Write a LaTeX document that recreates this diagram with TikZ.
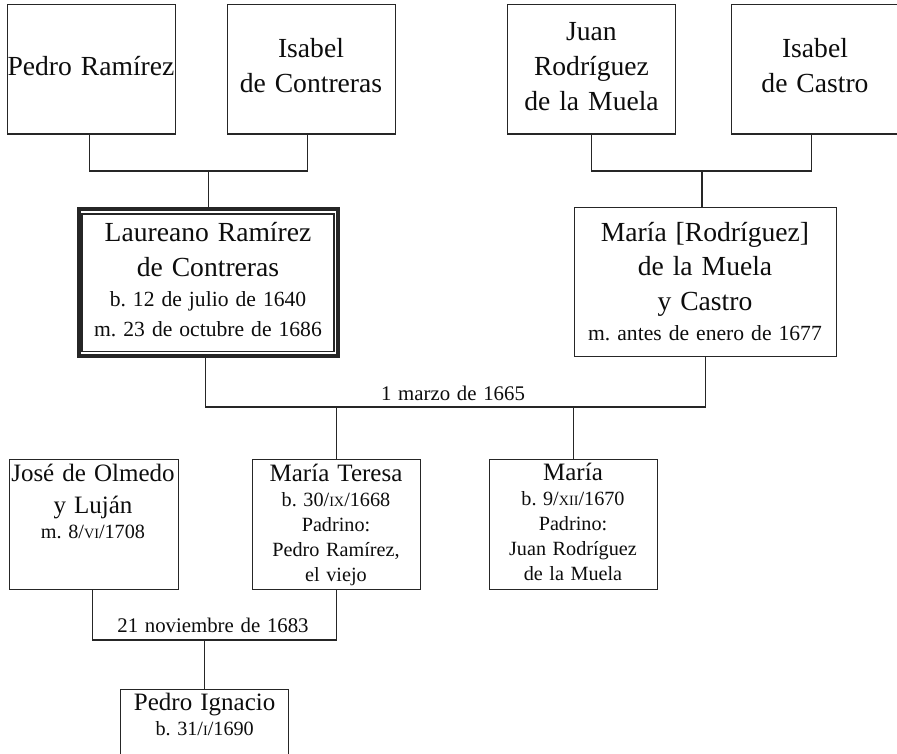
\documentclass[tikz,border=0pt]{standalone}
\usepackage{fontspec}
\setmainfont{Liberation Serif}
\usetikzlibrary{calc}
\definecolor{ink}{gray}{0.15}
\definecolor{txtc}{gray}{0.05}
\newcommand\fixsp{\spaceskip=.325em\xspaceskip=.325em\relax}
\newcommand\fbig{\fontsize{27.6}{35}\selectfont\fixsp}
\newcommand\fmid{\fontsize{21.6}{30}\selectfont\fixsp}
\newcommand\fname{\fontsize{25}{32}\selectfont\fixsp}
\newcommand\fsmall{\fontsize{20.2}{25}\selectfont\fixsp}
\newcommand\flbl{\fontsize{20.8}{25}\selectfont\fixsp}
\newcommand\rmn[1]{{\fontsize{14.2}{14.2}\selectfont #1}}
\begin{document}
\begin{tikzpicture}[x=1pt,y=-1pt,
  box/.style={draw=ink, line width=1.2pt, inner sep=0pt, outer sep=0pt, anchor=north west,
              minimum width=168pt, minimum height=129.5pt},
  txt/.style={anchor=base, inner sep=0pt, outer sep=0pt, text width=320pt, align=center, text=txtc},
  lbl/.style={anchor=base, inner sep=0pt, outer sep=0pt, text=txtc, font=\flbl},
  link/.style={draw=ink, line width=1.2pt}]
\useasboundingbox (0,0) rectangle (897,754);
\clip (0,0) rectangle (897,754);
\fill[white] (0,0) rectangle (897,754);

% boxes
\node[box] (PR) at (7.5,4.5) {};
\node[box] (IC) at (227.5,4.5) {};
\node[box] (JR) at (507.5,4.5) {};
\node[box] (ICa) at (731.5,4.5) {};
\node[box, line width=4pt, minimum width=259.5pt, minimum height=146.5pt] (L) at (78.7,209.3) {};
\draw[link] ($(L.north west)+(3.3,4.7)$) rectangle ($(L.south east)+(-4.2,-4.3)$);
\node[box, minimum width=262pt, minimum height=149pt] (MR) at (574.5,207.5) {};
\node[box, minimum width=169pt, minimum height=130pt] (JO) at (9.5,459.5) {};
\node[box, minimum height=130pt] (MT) at (252.5,459.5) {};
\node[box, minimum height=130pt] (M) at (489.5,459.5) {};
\node[box, minimum height=130pt] (PI) at (120.5,689.5) {};

% texts
\node[txt] (tPR) at (91,76) {{\fbig Pedro Ramírez\par}};
\node[txt] (tIC) at (311,58) {{\fbig Isabel\\de Contreras\par}};
\node[txt] (tJR) at (591.5,41) {{\fbig Juan\\Rodríguez\\de la Muela\par}};
\node[txt] (tICa) at (815,58) {{\fbig Isabel\\de Castro\par}};
\node[txt] (tL) at (208,242) {{\fbig Laureano Ramírez\\de Contreras\par}{\fmid b. 12 de julio de 1640\\m. 23 de octubre de 1686\par}};
\node[txt] (tMR) at (705,241) {{\fbig María [Rodríguez]\\de la Muela\\y Castro\par}{\fmid m. antes de enero de 1677\par}};
\node[txt] (tJO) at (93,481) {{\fname José de Olmedo\\y Luján\par}{\fsmall m. 8/\rmn{VI}/1708\par}};
\node[txt] (tMT) at (336,481) {{\fname María Teresa\par}{\fsmall b. 30/\rmn{IX}/1668\\Padrino:\\Pedro Ramírez,\\el viejo\par}};
\node[txt] (tM) at (573,480) {{\fname María\par}{\fsmall b. 9/\rmn{XII}/1670\\Padrino:\\Juan Rodríguez\\de la Muela\par}};
\node[txt] (tPI) at (204.7,710.5) {{\fname Pedro Ignacio\par}{\fsmall b. 31/\rmn{I}/1690\par}};

% connectors
\coordinate (jl) at (208.3,171);
\draw[link] ([xshift=-2.2pt]PR.south) |- (jl) -| ([xshift=-3.7pt]IC.south);
\draw[link] (jl) -- (jl |- L.north);
\coordinate (jr) at (702,171);
\draw[link] (JR.south) |- (jr) -| ([xshift=-3.8pt]ICa.south);
\draw[link] (jr) -- (jr |- MR.north);

\coordinate (m1) at (453,407);
\draw[link] ([xshift=-3.2pt]L.south) |- (m1) -| (MR.south);
\draw[link] (MT.north) -- (MT.north |- m1);
\draw[link] (M.north) -- (M.north |- m1);
\node[lbl] (l1) at (453,400.7) {1 marzo de 1665};

\coordinate (m2) at (204.6,640);
\draw[link] ([xshift=-1.3pt]JO.south) |- (m2) -| (MT.south);
\draw[link] (m2) -- (m2 |- PI.north);
\node[lbl] (l2) at (213,632.3) {21 noviembre de 1683};
\end{tikzpicture}
\end{document}
